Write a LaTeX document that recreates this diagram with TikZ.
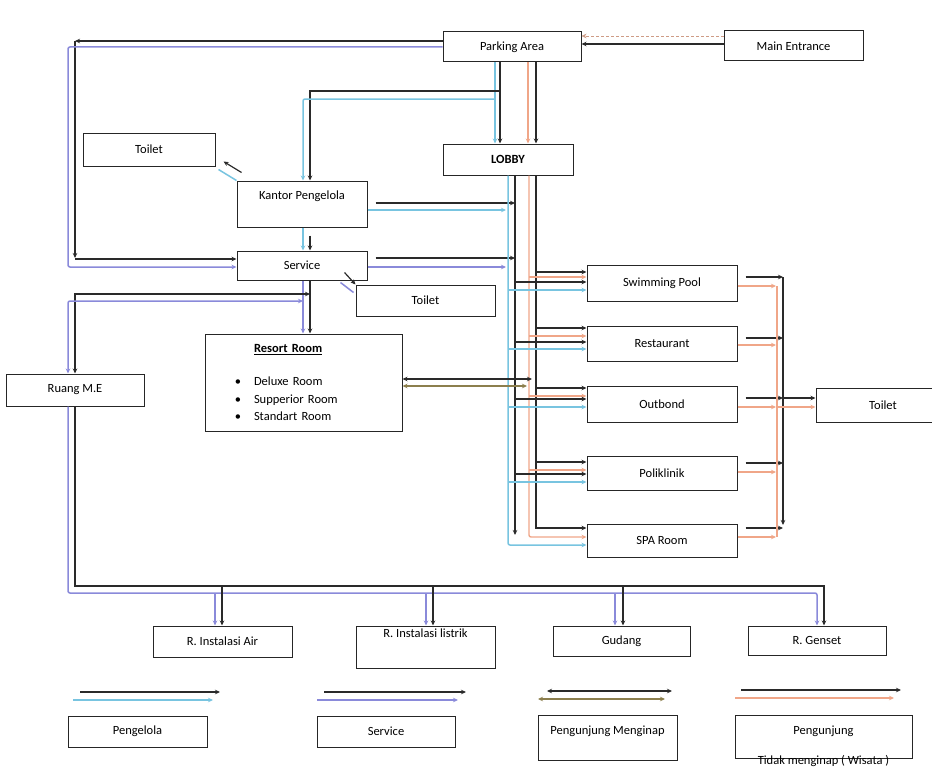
\documentclass[tikz,border=0pt]{standalone}
\usepackage{fontspec}
\setmainfont{Carlito}
\usetikzlibrary{arrows.meta}
\usetikzlibrary{positioning}
\tikzset{>={Stealth[length=5pt,width=4.5pt]}}
\definecolor{flowblk}{HTML}{2A2A2A}
\definecolor{flowcyan}{HTML}{78C4E0}
\definecolor{flowpurple}{HTML}{8A8ADA}
\definecolor{floworange}{HTML}{F0A688}
\definecolor{flowolive}{HTML}{8C7F4E}
\newcommand{\roombullet}{\leavevmode\llap{\textbullet\hspace{13pt}}}
\tikzset{
    room/.style={draw=black!85, line width=1pt, inner sep=2pt,
        font=\fontsize{12.5}{15}\selectfont},
    blk/.style={draw=flowblk, line width=1.2pt},
    pgl/.style={draw=flowcyan, line width=1.5pt, rounded corners=2pt},
    srv/.style={draw=flowpurple, line width=1.5pt, rounded corners=2pt},
    tmu/.style={draw=floworange, line width=1.4pt, rounded corners=2pt},
    inap/.style={draw=flowolive, line width=1.5pt},
}
\begin{document}
\begin{tikzpicture}[x=1pt,y=-1pt]
	\useasboundingbox (0,0) rectangle (932,768);
	% rooms
	\node[room, minimum width=138pt, minimum height=30pt] (park) at (512,47) {Parking Area};
	\node[room, minimum width=139pt, minimum height=30pt] (entr) at (793.5,46) {Main Entrance};
	\node[room, minimum width=132pt, minimum height=33pt] (toiletA) at (149,149.5) {Toilet};
	\node[room, minimum width=130pt, minimum height=31pt] (lobby) at (508,159.5) {\textbf{LOBBY}};
	\node[room, minimum width=130pt, minimum height=46pt, text height=9pt, text depth=18pt] (kantor) at (302,204) {Kantor Pengelola};
	\node[room, minimum width=130pt, minimum height=29pt] (serv) at (302,265.5) {Service};
	\node[room, minimum width=139pt, minimum height=31pt] (toiletB) at (425.5,300.5) {Toilet};
	\node[room, minimum width=197pt, minimum height=97pt, text width=99pt, align=left] (resort) at (303.5,382.5)
		{\underline{\textbf{Resort Room}}\\[18pt]
		 \roombullet Deluxe Room\\[2.5pt]
		 \roombullet Supperior Room\\[2.5pt]
		 \roombullet Standart Room};
	\node[room, minimum width=138pt, minimum height=32pt] (me) at (75,390) {Ruang M.E};
	\node[room, minimum width=150pt, minimum height=36pt] (pool) at (662,283) {Swimming Pool};
	\node[room, minimum width=150pt, minimum height=35pt] (resto) at (662,343.5) {Restaurant};
	\node[room, minimum width=150pt, minimum height=36pt] (outb) at (662,404) {Outbond};
	\node[room, minimum width=150pt, minimum height=34pt] (poli) at (662,473) {Poliklinik};
	\node[room, minimum width=150pt, minimum height=33pt] (spa) at (662,540.5) {SPA Room};
	\node[room, minimum width=134pt, minimum height=34pt] (toiletC) at (883,405) {Toilet};
	\node[room, minimum width=139pt, minimum height=31pt] (air) at (222.5,641.5) {R. Instalasi Air};
	\node[room, minimum width=139pt, minimum height=42pt, text height=9pt, text depth=28pt] (listrik) at (425.5,647) {R. Instalasi listrik};
	\node[room, minimum width=137pt, minimum height=30pt] (gudang) at (621.5,641) {Gudang};
	\node[room, minimum width=138pt, minimum height=29pt] (genset) at (817,640.5) {R. Genset};
	% legend
	\node[room, minimum width=139pt, minimum height=31pt] (lgPeng) at (137.5,731.5) {Pengelola};
	\node[room, minimum width=138pt, minimum height=31pt] (lgServ) at (386,731.5) {Service};
	\node[room, minimum width=139pt, minimum height=45pt, text height=9pt, text depth=15pt] (lgInap) at (607.5,737.5) {Pengunjung Menginap};
	\node[room, minimum width=177pt, minimum height=43pt, text height=9pt, text depth=13pt,
		label={[anchor=center, yshift=-2pt, font=\fontsize{12.5}{15}\selectfont]south:Tidak menginap ( Wisata )}] (lgWis) at (823.5,736.5) {Pengunjung};
	\draw[blk,->] (80,692) -- (220,692);
	\draw[pgl,->] (73,700) -- (213,700);
	\draw[blk,->] (324,692) -- (466,692);
	\draw[srv,->] (317,700) -- (458,700);
	\draw[blk,<->] (547,691) -- (672,691);
	\draw[inap,<->] (538,699) -- (665,699);
	\draw[blk,->] (741,690) -- (901,690);
	\draw[tmu,->] (735,698) -- (894,698);

	% entrance and parking
	\draw[blk,->,line width=1.8pt] (entr.west |- 0,44) -- (park.east |- 0,44);
	\draw[floworange!70!gray, thin, densely dashed, ->] (entr.west |- 0,36) -- (park.east |- 0,36);
	\draw[blk,->] (park.west |- 0,41) -- (75,41);
	\draw[blk,->] (75,41) -- (75,258);
	\draw[blk,->] (75,259) -- (serv.west |- 0,259);
	\draw[srv,->] (park.west |- 0,47) -- (68,47) -- (68,267) -- (serv.west |- 0,267);
	\draw[blk,->] (park.south -| 500,0) -- (lobby.north -| 500,0);
	\draw[pgl,->] (park.south -| 495,0) -- (lobby.north -| 495,0);
	\draw[tmu,->] (park.south -| 528,0) -- (lobby.north -| 528,0);
	\draw[blk,->] (park.south -| 536,0) -- (lobby.north -| 536,0);
	\draw[blk,->] (500,91) -- (310,91) -- (kantor.north -| 310,0);
	\draw[pgl,->] (495,99) -- (303,99) -- (kantor.north -| 303,0);

	% kantor and service
	\draw[pgl] (kantor.north west) -- ([shift={(3,3)}]toiletA.south east);
	\draw[blk,->] ([shift={(5,-8)}]kantor.north west) -- ([shift={(8,-5)}]toiletA.south east);
	\draw[blk,->,shorten <=8pt] (kantor.south -| 310,0) -- (serv.north -| 310,0);
	\draw[pgl,->] (kantor.south -| 303,0) -- (serv.north -| 303,0);
	\draw[blk,->,shorten <=8pt] (kantor.east |- 0,203) -- (515,203);
	\draw[pgl,->] (kantor.east |- 0,210) -- (506,210);
	\draw[blk,->,shorten <=8pt] (serv.east |- 0,258) -- (515,258);
	\draw[srv,->] (serv.east |- 0,267) -- (506,267);
	\draw[blk,->] ([shift={(-23,-8)}]serv.south east) -- (toiletB.north west);
	\draw[srv] ([shift={(-27,2)}]serv.south east) -- ([shift={(-2,8)}]toiletB.north west);
	\draw[blk,->] (serv.south -| 310,0) -- (resort.north -| 310,0);
	\draw[srv,->] (serv.south -| 303,0) -- (resort.north -| 303,0);
	\draw[blk,<->] (310,294) -- (75,294) -- (me.north -| 75,0);
	\draw[srv,<->] (303,301) -- (68,301) -- (me.north -| 68,0);

	% utilities
	\draw[blk,->] (me.south -| 75,0) -- (75,586) -| (genset.north -| 824,0);
	\draw[srv,->] (me.south -| 68,0) -- (68,593) -| (genset.north -| 817,0);
	\foreach \n/\xa/\xb in {air/222/215, listrik/433/426, gudang/623/615} {
		\draw[blk,->] (\xa,586) -- (\n.north -| \xa,0);
		\draw[srv,->] (\xb,593) -- (\n.north -| \xb,0);
	}

	% lobby to facilities
	\draw[pgl,->] (lobby.south -| 508,0) -- (508,545) -- (spa.west |- 0,545);
	\draw[blk,->] (lobby.south -| 515,0) -- (515,535);
	\draw[tmu,->] (lobby.south -| 529,0) -- (529,537) -- (spa.west |- 0,537);
	\draw[blk,->] (lobby.south -| 536,0) -- (536,528) -- (spa.west |- 0,528);
	\foreach \n/\ya/\yb/\yc/\yd in {pool/272/277/282/290, resto/328/336/342/349, outb/388/396/399/407, poli/462/470/474/482} {
		\draw[blk,->] (536,\ya) -- (\n.west |- 0,\ya);
		\draw[tmu,->] (529,\yb) -- (\n.west |- 0,\yb);
		\draw[blk,->] (515,\yc) -- (\n.west |- 0,\yc);
		\draw[pgl,->] (508,\yd) -- (\n.west |- 0,\yd);
	}
	\draw[blk,<->] (resort.east |- 0,379) -- (532,379);
	\draw[inap,<->] (resort.east |- 0,386) -- (527,386);

	% facilities to toilet
	\foreach \n/\ya/\yb in {pool/277/286, resto/338/345, outb/398/407, poli/463/472, spa/528/537} {
		\draw[blk,->,shorten <=8pt] (\n.east |- 0,\ya) -- (783,\ya);
		\draw[tmu,->] (\n.east |- 0,\yb) -- (776,\yb);
	}
	\draw[blk,->] (783,277) -- (783,525);
	\draw[tmu] (777,286) -- (777,537);
	\draw[blk,->] (783,398) -- (toiletC.west |- 0,398);
	\draw[tmu,->] (777,407) -- (toiletC.west |- 0,407);
\end{tikzpicture}
\end{document}
